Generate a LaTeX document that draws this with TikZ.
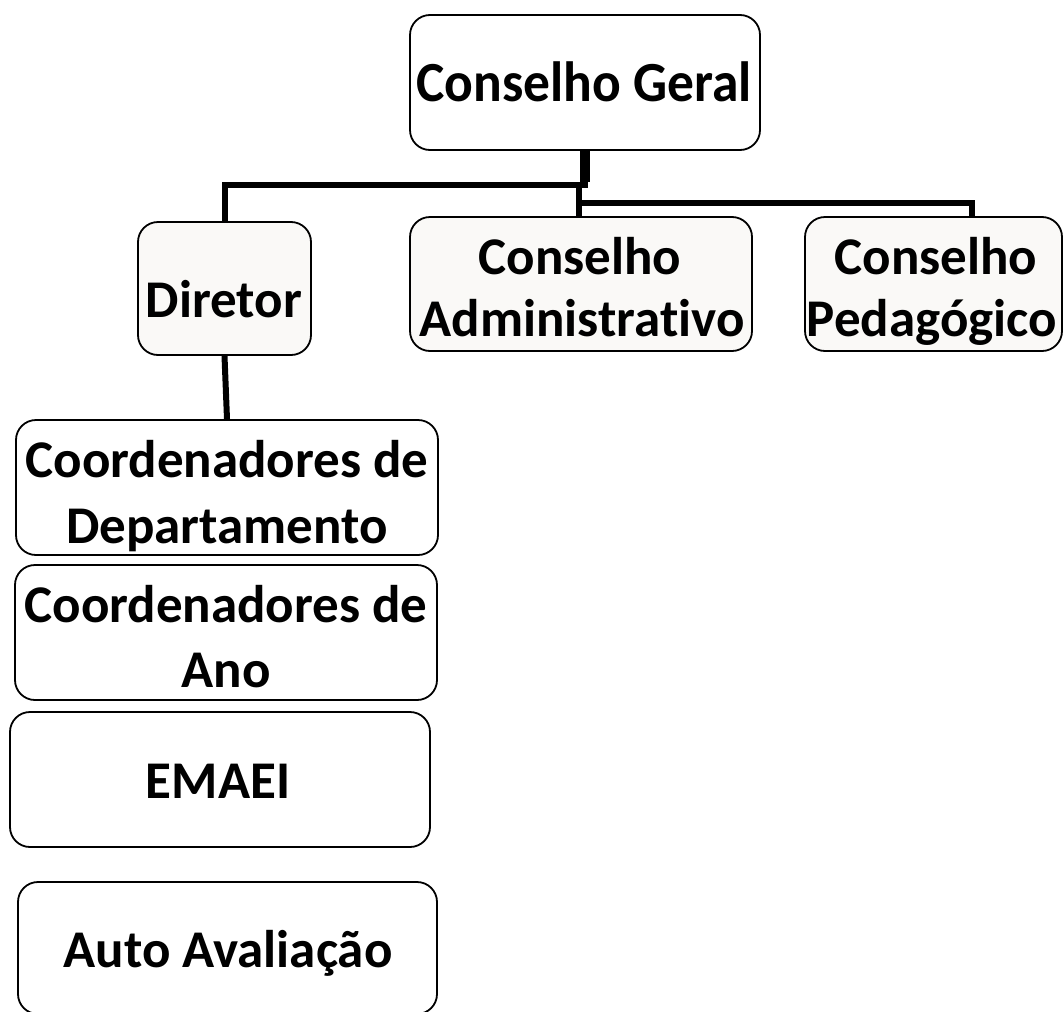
\documentclass[tikz,border=0pt]{standalone}
\usepackage{graphicx}
\usepackage{fontspec}
\setmainfont[Ligatures=NoCommon]{Carlito}
\definecolor{offwhite}{HTML}{FAF9F7}
\begin{document}
\begin{tikzpicture}[x=1pt,y=-1pt,
  box/.style={draw=black, line width=1.8pt, rounded corners=20pt, inner sep=0pt, fill=white},
  soft/.style={fill=offwhite},
  lbl/.style={font=\fontsize{53}{65}\selectfont\bfseries, inner sep=0pt, anchor=base},
  big/.style={font=\fontsize{53.5}{65}\selectfont\bfseries},
  conn/.style={line width=6pt},
  stem/.style={line width=10pt}]
\useasboundingbox (0,0) rectangle (1063,1012);

% boxes
\node[box, minimum width=350pt, minimum height=135pt] (geral) at (585,82.5) {};
\node[box, soft, minimum width=173pt, minimum height=133pt] (dir) at (224.5,288.5) {};
\node[box, soft, minimum width=342pt, minimum height=134pt] (adm) at (581,284) {};
\node[box, soft, minimum width=257pt, minimum height=134pt] (ped) at (933.5,284) {};
\node[box, minimum width=422pt, minimum height=135pt] (dep) at (227,487.5) {};
\node[box, minimum width=422pt, minimum height=135pt] (ano) at (226,632.5) {};
\node[box, minimum width=420pt, minimum height=135pt] (emaei) at (220,779.5) {};
\node[box, minimum width=419pt, minimum height=132pt] (auto) at (227.5,948) {};

% texts, clipped to their boxes
\begin{scope}\clip[rounded corners=20pt] (geral.south west) rectangle (geral.north east);
\node[lbl, big] (tgeral) at (584,101) {\scalebox{1}[1.06]{Conselho Geral}};\end{scope}
\begin{scope}\clip[rounded corners=20pt] (dir.south west) rectangle (dir.north east);
\node[lbl] (tdir) at (224,317) {Diretor};\end{scope}
\begin{scope}\clip[rounded corners=20pt] (adm.south west) rectangle (adm.north east);
\node[lbl] (tadm1) at (580,274) {Conselho};
\node[lbl] (tadm2) at (582,336) {Administrativo};\end{scope}
\begin{scope}\clip[rounded corners=20pt] (ped.south west) rectangle (ped.north east);
\node[lbl] (tped1) at (936,274) {Conselho};
\node[lbl] (tped2) at (932,336) {Pedagógico};\end{scope}
\begin{scope}\clip[rounded corners=20pt] (dep.south west) rectangle (dep.north east);
\node[lbl] (tdep1) at (227,477) {Coordenadores de};
\node[lbl] (tdep2) at (227,543) {Departamento};\end{scope}
\begin{scope}\clip[rounded corners=20pt] (ano.south west) rectangle (ano.north east);
\node[lbl] (tano1) at (226,622) {Coordenadores de};
\node[lbl] (tano2) at (226,687) {Ano};\end{scope}
\node[lbl] (temaei) at (218,798) {EMAEI};
\begin{scope}\clip[rounded corners=20pt] (auto.south west) rectangle (auto.north east);
\node[lbl] (tauto) at (228,967) {Auto Avaliação};\end{scope}

% connectors
\coordinate (jl) at (584.5,185);
\coordinate (jr) at (579,203);
\coordinate (pedtop) at (972,217);
\draw[stem] (geral.south -| jl) -- ([yshift=3pt]jl);
\draw[conn] ([xshift=3pt]jl) -| (dir.north);
\draw[conn] (jr |- jl) -- (jr |- adm.north);
\draw[conn] (jr) -| (pedtop);
\draw[conn] (dir.south) -- (dep.north);
\end{tikzpicture}
\end{document}
